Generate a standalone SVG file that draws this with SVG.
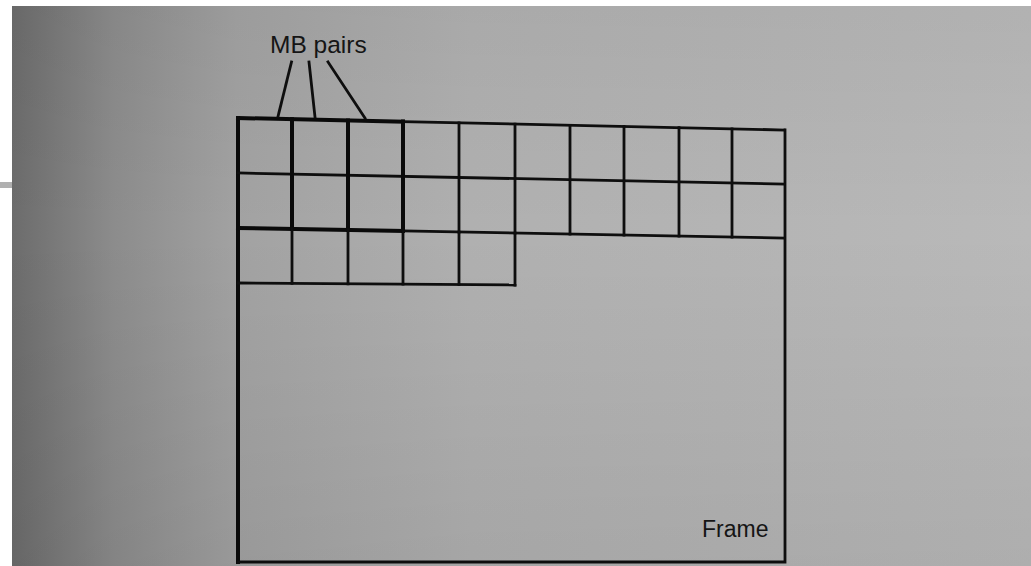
<svg xmlns="http://www.w3.org/2000/svg" width="1031" height="566" viewBox="0 0 1031 566">
<defs>
<linearGradient id="bg" x1="0" y1="0" x2="1" y2="0">
<stop offset="0" stop-color="#6c6c6c"/>
<stop offset="0.1" stop-color="#8c8c8c"/>
<stop offset="0.22" stop-color="#a2a2a2"/>
<stop offset="0.45" stop-color="#b0b0b0"/>
<stop offset="1" stop-color="#b9b9b9"/>
</linearGradient>
<linearGradient id="vig" x1="0" y1="0" x2="0" y2="1">
<stop offset="0" stop-color="#000" stop-opacity="0.04"/>
<stop offset="0.4" stop-color="#000" stop-opacity="0"/>
<stop offset="1" stop-color="#000" stop-opacity="0.06"/>
</linearGradient>
<style>
.thin{stroke:#0e0e0e;stroke-width:2.8;fill:none;stroke-linecap:square}
.thick{stroke:#0a0a0a;stroke-width:4;fill:none;stroke-linecap:square}
.lbl{font-family:"Liberation Sans",Arial,sans-serif;fill:#151515}
</style>
</defs>
<rect width="1031" height="566" fill="#ffffff"/>
<rect x="12" y="6" width="1019" height="560" fill="url(#bg)"/>
<rect x="12" y="6" width="1019" height="560" fill="url(#vig)"/>
<rect x="0" y="182" width="12" height="6" fill="#b0b0b0"/>
<g id="frame">
<path class="thick" d="M238,118 V562"/>
<path class="thin" d="M238,562 H785 V130"/>
</g>
<g id="grid">
<path class="thick" d="M238,118 L403,121.6"/>
<path class="thin" d="M403,121.6 L784,130"/>
<path class="thin" d="M238,173 L784,184"/>
<path class="thick" d="M238,228 L403,231"/>
<path class="thin" d="M403,231 L784,238"/>
<path class="thin" d="M238,283 L515,285"/>
<path class="thick" d="M292,119.2 V229 M348,120.4 V230 M403,121.6 V231"/>
<path class="thin" d="M459,122.9 V232.1 M515,124.1 V233.1 M570,125.3 V234.1 M624,126.5 V235.1 M679,127.7 V236 M732,128.9 V237"/>
<path class="thin" d="M292,229 V283.4 M348,230 V283.8 M403,231 V284.2 M459,232.1 V284.6 M515,233.1 V285"/>
</g>
<g id="connectors">
<path class="thin" d="M291.5,62 L278,116.5"/>
<path class="thin" d="M309,62 L315,117"/>
<path class="thin" d="M328,62 L365,118"/>
</g>
<g id="mb-pairs-label">
<text class="lbl" x="270" y="53" font-size="24.5">MB pairs</text>
</g>
<g id="frame-label">
<text class="lbl" x="702" y="537" font-size="23">Frame</text>
</g>
</svg>
